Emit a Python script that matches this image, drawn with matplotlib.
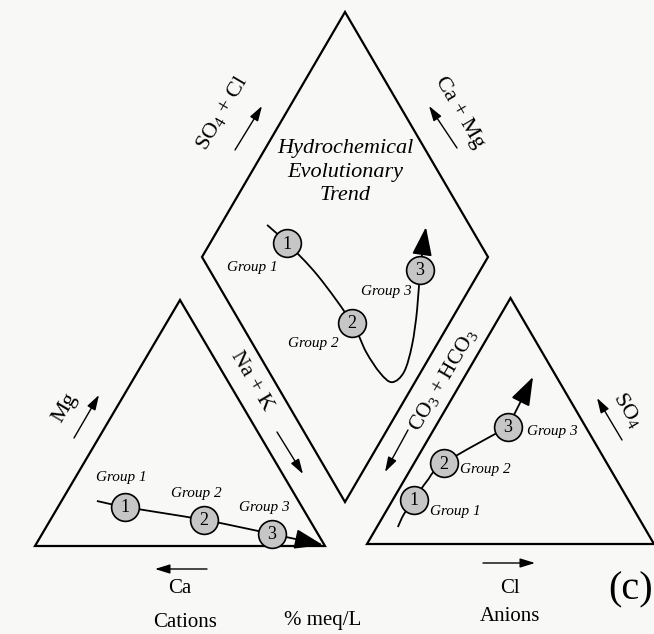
import numpy as np
import matplotlib
matplotlib.use("Agg")
import matplotlib.pyplot as plt
from matplotlib.patches import Polygon, PathPatch
from matplotlib.path import Path

plt.rcParams['font.family'] = ['Liberation Serif', 'DejaVu Serif']
plt.rcParams['mathtext.fontset'] = 'custom'
plt.rcParams['mathtext.rm'] = 'Liberation Serif'
plt.rcParams['mathtext.it'] = 'Liberation Serif:italic'

# groups (percent meq/L)
groups = ['Group 1', 'Group 2', 'Group 3']
cat_na_k = [23.1, 53.0, 79.3]
cat_mg = [15.9, 10.6, 4.9]
an_cl = [7.4, 10.4, 25.3]
an_so4 = [17.9, 32.9, 47.6]
dia_so4_cl = [32.6, 39.0, 73.6]
dia_ca_mg = [73.1, 34.1, 21.2]

# trend lines traced through the groups
cat_trend_na_k = [12.2, 23.1, 53.0, 79.3, 99.1]
cat_trend_mg = [18.3, 15.9, 10.6, 4.9, 0.4]
an_trend_cl = [7.3, 6.8, 7.5, 8.1, 10.4, 25.3, 23.9]
an_trend_so4 = [6.9, 12.2, 17.9, 25.6, 32.9, 47.6, 67.9]
dia_trend_so4_cl = [29.3, 32.6, 36.7, 39.0, 38.0, 38.6, 40.9, 47.2, 55.5, 64.4, 73.6, 84.4]
dia_trend_ca_mg = [83.8, 73.1, 55.6, 34.1, 23.3, 14.1, 8.0, 5.9, 8.6, 14.0, 21.2, 27.8]


def cation_xy(na_k, mg):
    na_k, mg = np.asarray(na_k, float), np.asarray(mg, float)
    return 35 + 290 * (na_k + mg / 2) / 100, 546 - 246 * mg / 100


def anion_xy(cl, so4):
    cl, so4 = np.asarray(cl, float), np.asarray(so4, float)
    return 367 + 287 * (cl + so4 / 2) / 100, 544 - 246 * so4 / 100


def diamond_xy(so4_cl, ca_mg):
    b, a = np.asarray(so4_cl, float), np.asarray(ca_mg, float)
    return 345 + 143 * (b - a) / 100, 502 - 245 * (b + a) / 100


fig = plt.figure(figsize=(6.54, 6.34), dpi=100)
fig.patch.set_facecolor('#f8f8f7')
ax = fig.add_axes([0, 0, 1, 1])
ax.set_xlim(0, 654)
ax.set_ylim(634, 0)
ax.axis('off')

# outlines
for xs, ys in [cation_xy([0, 100, 0], [0, 0, 100]),
               anion_xy([0, 100, 0], [0, 0, 100]),
               diamond_xy([0, 100, 100, 0], [0, 0, 100, 100])]:
    ax.add_patch(Polygon(np.column_stack([xs, ys]), closed=True, fill=False,
                         lw=1.6, ec='black', joinstyle='miter', clip_on=False))

big = dict(arrowstyle='-|>,head_length=0.8,head_width=0.28', mutation_scale=22,
           lw=1.3, color='black', shrinkA=0, shrinkB=0)
small = dict(arrowstyle='-|>,head_length=0.9,head_width=0.28', mutation_scale=10,
             lw=1.0, color='black', shrinkA=0, shrinkB=0)


def smooth_path(xs, ys):
    # bezier segments through the traced points
    p = np.column_stack([xs, ys])
    verts, codes = [p[0]], [Path.MOVETO]
    n = len(p)
    for i in range(n - 1):
        prev = p[max(i - 1, 0)]
        nxt = p[min(i + 2, n - 1)]
        verts += [p[i] + (p[i + 1] - prev) / 6, p[i + 1] - (nxt - p[i]) / 6, p[i + 1]]
        codes += [Path.CURVE4] * 3
    return Path(verts, codes)


def trend(xs, ys):
    ax.add_patch(PathPatch(smooth_path(xs[:-1], ys[:-1]), fill=False,
                           lw=1.3, ec='black', zorder=2))
    ax.annotate('', xy=(xs[-1], ys[-1]), xytext=(xs[-2], ys[-2]),
                arrowprops=big, zorder=2)


def circles(xs, ys):
    for i, (x, y) in enumerate(zip(xs, ys)):
        ax.plot(x, y, 'o', ms=20, mfc='#c6c6c6', mec='black', mew=1.2, zorder=3)
        ax.text(x, y + 1, str(i + 1), fontsize=13, ha='center', va='center', zorder=4)


trend(*cation_xy(cat_trend_na_k, cat_trend_mg))
trend(*anion_xy(an_trend_cl, an_trend_so4))
trend(*diamond_xy(dia_trend_so4_cl, dia_trend_ca_mg))
circles(*cation_xy(cat_na_k, cat_mg))
circles(*anion_xy(an_cl, an_so4))
circles(*diamond_xy(dia_so4_cl, dia_ca_mg))

gkw = dict(fontsize=11, style='italic', va='center')
for g, pos in zip(groups, [(121, 478), (196, 493), (264, 508)]):
    ax.text(*pos, g, ha='center', **gkw)
for g, pos in zip(groups, [(252, 268), (313, 343), (386, 292)]):
    ax.text(*pos, g, ha='center', **gkw)
for g, pos in zip(groups, [(430, 511), (460, 470), (527, 432)]):
    ax.text(*pos, g, ha='left', **gkw)

ax.text(345, 153, 'Hydrochemical', fontsize=16, style='italic', ha='center', va='baseline')
ax.text(345, 177, 'Evolutionary', fontsize=16, style='italic', ha='center', va='baseline')
ax.text(345, 200, 'Trend', fontsize=16, style='italic', ha='center', va='baseline')

# edge labels and arrows
lab = dict(fontsize=16, ha='center', va='center', rotation_mode='anchor')
ax.text(222, 113, r'SO$_4$ + Cl', rotation=59.5, **lab)
ax.text(459, 112, 'Ca + Mg', rotation=-59.5, **lab)
ax.text(252, 381, 'Na + K', rotation=-59.5, **lab)
ax.text(65, 408, 'Mg', rotation=59.5, **lab)
ax.text(443, 380, r'CO$_3$ + HCO$_3$', rotation=59.5, fontsize=15.5, ha='center',
        va='center', rotation_mode='anchor')
ax.text(628, 410, r'SO$_4$', rotation=-59.5, **lab)

for a, b in [((235, 150), (262, 106)), ((457, 148), (429, 106)),
             ((277, 432), (303, 474)), ((74, 438), (99, 395)),
             ((408, 430), (385, 472)), ((622, 440), (597, 398)),
             ((207, 569), (155, 569)), ((483, 563), (535, 563))]:
    ax.annotate('', xy=b, xytext=a, arrowprops=small)

ax.text(180, 593, 'Ca', fontsize=15, ha='center', va='baseline')
ax.text(510, 593, 'Cl', fontsize=15, ha='center', va='baseline')
ax.text(185, 627, 'Cations', fontsize=15, ha='center', va='baseline')
ax.text(323, 625, '% meq/L', fontsize=15, ha='center', va='baseline')
ax.text(510, 621, 'Anions', fontsize=15, ha='center', va='baseline')
ax.text(631, 590, '(c)', fontsize=29, ha='center', va='center')

fig.savefig('out.png', dpi=100, facecolor=fig.get_facecolor())
